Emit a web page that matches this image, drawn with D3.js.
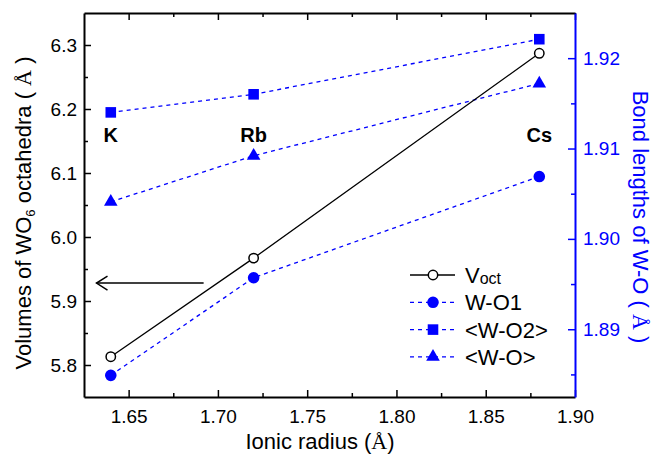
<!DOCTYPE html>
<html>
<head>
<meta charset="utf-8">
<script src="https://cdn.jsdelivr.net/npm/d3@7"></script>
<style>
  body { margin: 0; background: white; }
  svg { display: block; font-family: 'Liberation Sans', Arial, sans-serif; }
</style>
</head>
<body>
<svg id="chart" width="657" height="460"></svg>
<script>
// data
const ionicRadius = [1.64, 1.72, 1.88]
const cations = ['K', 'Rb', 'Cs']
const vOct = [5.813, 5.967, 6.287]
const wO1 = [1.8849, 1.8957, 1.9069]
const wO2Avg = [1.9140, 1.9160, 1.9221]
const wOAvg = [1.9041, 1.9092, 1.9172]

const xTicks = [1.65, 1.70, 1.75, 1.80, 1.85, 1.90]
const xMinorTicks = [1.675, 1.725, 1.775, 1.825, 1.875]
const leftTicks = [5.8, 5.9, 6.0, 6.1, 6.2, 6.3]
const leftMinorTicks = [5.85, 5.95, 6.05, 6.15, 6.25]
const rightTicks = [1.89, 1.90, 1.91, 1.92]
const rightMinorTicks = [1.885, 1.895, 1.905, 1.915]

// arrow pointing to the left axis (in data units)
const arrowFrom = 1.692
const arrowTo = 1.632
const arrowAt = 5.928
const cationLabelAt = 6.148

const blue = '#0000ff'
const margin = { top: 13, right: 82, bottom: 63, left: 84 }
const width = 657
const height = 460

const svg = d3.select('#chart')

const x = d3.scaleLinear().domain([1.625, 1.90]).range([margin.left, width - margin.right])
const yL = d3.scaleLinear().domain([5.75, 6.35]).range([height - margin.bottom, margin.top])
const yR = d3.scaleLinear().domain([1.8825, 1.925]).range([height - margin.bottom, margin.top])

function styleAxis (g, color, fontSize) {
  g.select('.domain').attr('stroke', color).attr('stroke-width', 2)
  g.selectAll('.tick line').attr('stroke', color).attr('stroke-width', 1.5)
  g.selectAll('.tick text')
    .attr('fill', color)
    .style('font-size', fontSize + 'px')
    .style('font-family', "'Liberation Sans', Arial, sans-serif")
}

function drawMinor (axis, transform, color) {
  const g = svg.append('g').attr('transform', transform).call(axis)
  g.select('.domain').remove()
  g.selectAll('.tick line').attr('stroke', color).attr('stroke-width', 1.5)
}

// ---- axes ----
const bottomAxis = svg.append('g')
  .attr('transform', `translate(0,${height - margin.bottom})`)
  .call(d3.axisBottom(x).tickValues(xTicks).tickFormat(d3.format('.2f'))
    .tickSizeInner(-7).tickSizeOuter(0).tickPadding(13))
styleAxis(bottomAxis, 'black', 19)

const topAxis = svg.append('g')
  .attr('transform', `translate(0,${margin.top})`)
  .call(d3.axisTop(x).tickValues(xTicks).tickFormat('')
    .tickSizeInner(-7).tickSizeOuter(0))
styleAxis(topAxis, 'black', 19)

const leftAxis = svg.append('g')
  .attr('transform', `translate(${margin.left},0)`)
  .call(d3.axisLeft(yL).tickValues(leftTicks).tickFormat(d3.format('.1f'))
    .tickSizeInner(-7).tickSizeOuter(0).tickPadding(7))
styleAxis(leftAxis, 'black', 19)

const rightAxis = svg.append('g')
  .attr('transform', `translate(${width - margin.right},0)`)
  .call(d3.axisRight(yR).tickValues(rightTicks).tickFormat(d3.format('.2f'))
    .tickSizeInner(-7).tickSizeOuter(0).tickPadding(8))
styleAxis(rightAxis, blue, 19)

drawMinor(d3.axisBottom(x).tickValues(xMinorTicks).tickFormat('').tickSize(-4),
  `translate(0,${height - margin.bottom})`, 'black')
drawMinor(d3.axisTop(x).tickValues(xMinorTicks).tickFormat('').tickSize(-4),
  `translate(0,${margin.top})`, 'black')
drawMinor(d3.axisLeft(yL).tickValues(leftMinorTicks).tickFormat('').tickSize(-4),
  `translate(${margin.left},0)`, 'black')
drawMinor(d3.axisRight(yR).tickValues(rightMinorTicks).tickFormat('').tickSize(-4),
  `translate(${width - margin.right},0)`, blue)

// ---- axis titles ----
svg.append('text')
  .attr('x', 320)
  .attr('y', 449)
  .attr('text-anchor', 'middle')
  .style('font-size', '22px')
  .call(t => {
    t.append('tspan').text('Ionic radius (')
    t.append('tspan').style('font-family', "'Liberation Serif', serif").text('Å')
    t.append('tspan').text(')')
  })

svg.append('text')
  .attr('transform', 'translate(31,213) rotate(-90)')
  .attr('text-anchor', 'middle')
  .style('font-size', '22px')
  .call(t => {
    t.append('tspan').text('Volumes of WO')
    t.append('tspan').attr('dy', 4).style('font-size', '13px').text('6')
    t.append('tspan').attr('dy', -4).text(' octahedra ( ')
    t.append('tspan').style('font-family', "'Liberation Serif', serif").text('Å')
    t.append('tspan').text(' )')
  })

svg.append('text')
  .attr('transform', 'translate(633,217) rotate(90)')
  .attr('text-anchor', 'middle')
  .attr('fill', blue)
  .style('font-size', '22px')
  .call(t => {
    t.append('tspan').text('Bond lengths of W-O ( ')
    t.append('tspan').style('font-family', "'Liberation Serif', serif").text('Å')
    t.append('tspan').text(' )')
  })

// ---- series ----
const rows = ionicRadius.map((r, i) => ({
  r, cation: cations[i], vOct: vOct[i], wO1: wO1[i], wO2Avg: wO2Avg[i], wOAvg: wOAvg[i]
}))

const dashedSeries = [
  { key: 'wO1', symbol: d3.symbolCircle, size: 106 },
  { key: 'wO2Avg', symbol: d3.symbolSquare, size: 112 },
  { key: 'wOAvg', symbol: d3.symbolTriangle, size: 80 }
]

dashedSeries.forEach(s => {
  const line = d3.line().x(d => x(d.r)).y(d => yR(d[s.key]))
  svg.append('path')
    .datum(rows)
    .attr('d', line)
    .attr('fill', 'none')
    .attr('stroke', blue)
    .attr('stroke-width', 1.3)
    .attr('stroke-dasharray', '4,4')
})

const vLine = d3.line().x(d => x(d.r)).y(d => yL(d.vOct))
svg.append('path')
  .datum(rows)
  .attr('d', vLine)
  .attr('fill', 'none')
  .attr('stroke', 'black')
  .attr('stroke-width', 1.3)

dashedSeries.forEach(s => {
  svg.append('g').selectAll('path')
    .data(rows)
    .join('path')
    .attr('transform', d => `translate(${x(d.r)},${yR(d[s.key])})`)
    .attr('d', d3.symbol().type(s.symbol).size(s.size))
    .attr('fill', blue)
})

svg.append('g').selectAll('circle')
  .data(rows)
  .join('circle')
  .attr('cx', d => x(d.r))
  .attr('cy', d => yL(d.vOct))
  .attr('r', 4.7)
  .attr('fill', 'white')
  .attr('stroke', 'black')
  .attr('stroke-width', 1.5)

// cation labels
svg.append('g').selectAll('text')
  .data(rows)
  .join('text')
  .attr('x', d => x(d.r))
  .attr('y', yL(cationLabelAt))
  .attr('text-anchor', 'middle')
  .style('font-size', '20px')
  .style('font-weight', 'bold')
  .text(d => d.cation)

// arrow towards the left axis
const ay = yL(arrowAt)
const ax = x(arrowTo)
svg.append('line')
  .attr('x1', x(arrowFrom)).attr('x2', ax)
  .attr('y1', ay).attr('y2', ay)
  .attr('stroke', 'black').attr('stroke-width', 1.5)
svg.append('path')
  .attr('d', `M${ax + 11},${ay - 7}L${ax},${ay}L${ax + 11},${ay + 7}`)
  .attr('fill', 'none').attr('stroke', 'black').attr('stroke-width', 1.5)

// ---- legend ----
const legend = svg.append('g').attr('transform', 'translate(410,275)')
const legendRows = [
  { label: 'V', sub: 'oct', color: 'black', dash: null, symbol: null },
  { label: 'W-O1', color: blue, dash: '4,4', symbol: d3.symbolCircle, size: 106 },
  { label: '<W-O2>', color: blue, dash: '4,4', symbol: d3.symbolSquare, size: 112 },
  { label: '<W-O>', color: blue, dash: '4,4', symbol: d3.symbolTriangle, size: 80 }
]

legendRows.forEach((d, i) => {
  const g = legend.append('g').attr('transform', `translate(0,${i * 27.3})`)
  g.append('line')
    .attr('x1', 0).attr('x2', 45)
    .attr('stroke', d.color)
    .attr('stroke-width', 1.3)
    .attr('stroke-dasharray', d.dash)
  if (d.symbol) {
    g.append('path')
      .attr('transform', 'translate(23,0)')
      .attr('d', d3.symbol().type(d.symbol).size(d.size))
      .attr('fill', d.color)
  } else {
    g.append('circle')
      .attr('cx', 23).attr('r', 4.7)
      .attr('fill', 'white').attr('stroke', 'black').attr('stroke-width', 1.5)
  }
  const t = g.append('text')
    .attr('x', 55)
    .attr('y', 8)
    .style('font-size', '22px')
  t.append('tspan').text(d.label)
  if (d.sub) t.append('tspan').attr('dy', 1).style('font-size', '16px').text(d.sub)
})
</script>
</body>
</html>
